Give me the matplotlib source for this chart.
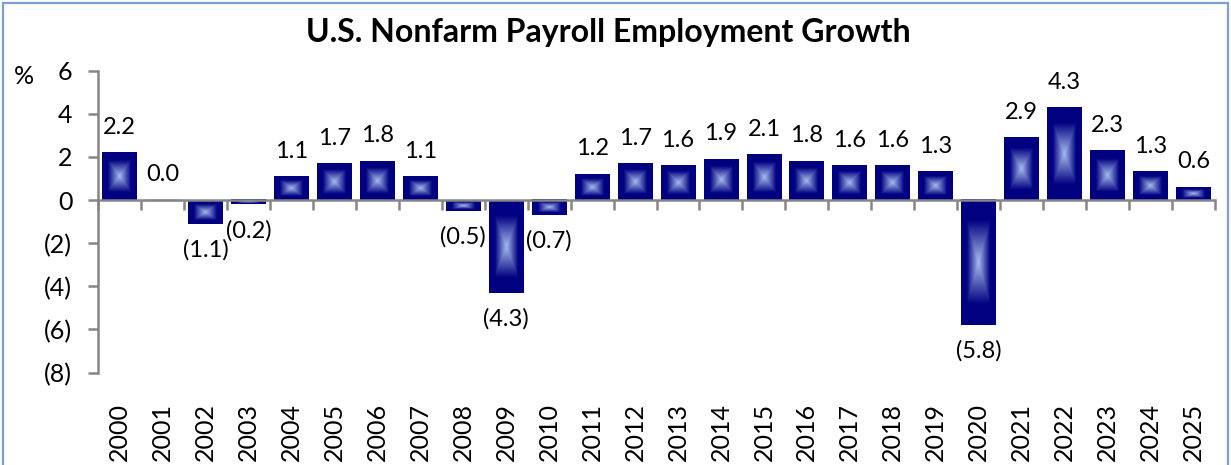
import numpy as np
import matplotlib.pyplot as plt
from matplotlib.patches import Rectangle
from matplotlib.colors import to_rgb

# Data
years = [str(y) for y in range(2000, 2026)]
growth = [2.2, 0.0, -1.1, -0.2, 1.1, 1.7, 1.8, 1.1, -0.5, -4.3, -0.7, 1.2, 1.7,
          1.6, 1.9, 2.1, 1.8, 1.6, 1.6, 1.3, -5.8, 2.9, 4.3, 2.3, 1.3, 0.6]
yticks = [6, 4, 2, 0, -2, -4, -6, -8]


def fmt(v, dec=1):
    # accounting style: negatives in brackets
    s = '%.*f' % (dec, abs(v))
    return '(' + s + ')' if v < 0 else s


plt.rcParams['font.family'] = ['Lato', 'DejaVu Sans']

W, H = 1231, 465
fig = plt.figure(figsize=(W / 100, H / 100), dpi=100)
ax = fig.add_axes([98 / W, 1 - 372.5 / H, (1215 - 98) / W, (372.5 - 70.7) / H])

navy = np.array(to_rgb('#000080'))
light = np.array(to_rgb('#a6bcee'))

# rectangular "from centre" gradient used for every bar
n = 60
u = np.linspace(-1, 1, n)
t = np.maximum(np.abs(u)[None, :], np.abs(u)[:, None])
f = np.clip(t / 0.68, 0, 1)
grad = light[None, None, :] * (1 - f[..., None]) + navy[None, None, :] * f[..., None]

x = np.arange(len(years))
bw = 0.81
for xi, v in zip(x, growth):
    lo, hi = min(0, v), max(0, v)
    if hi - lo < 0.02:
        ax.add_patch(Rectangle((xi - bw / 2, -0.02), bw, 0.04, color=navy, zorder=2))
        continue
    ax.imshow(grad, extent=(xi - bw / 2, xi + bw / 2, lo, hi), aspect='auto',
              interpolation='bilinear', zorder=2)

ax.set_xlim(-0.5, len(years) - 0.5)
ax.set_ylim(-8, 6)

# data labels
for xi, v in zip(x, growth):
    if v >= 0:
        ax.annotate(fmt(v), (xi, v), xytext=(0, 13.5), textcoords='offset points',
                    ha='center', va='baseline', fontsize=17)
    else:
        ax.annotate(fmt(v), (xi, v), xytext=(0, -11), textcoords='offset points',
                    ha='center', va='top', fontsize=17)

# axes styling
axis_col = '#868686'
for s in ['top', 'right']:
    ax.spines[s].set_visible(False)
ax.spines['left'].set_color(axis_col)
ax.spines['left'].set_linewidth(1.8)
ax.spines['bottom'].set_position(('data', 0))
ax.spines['bottom'].set_color(axis_col)
ax.spines['bottom'].set_linewidth(1.8)
ax.spines['bottom'].set_zorder(3)

ax.set_yticks(yticks)
ax.set_yticklabels([fmt(v, 0) for v in yticks], fontsize=18)
ax.tick_params(axis='y', direction='out', length=7.5, width=1.8, color=axis_col, pad=11)

ax.set_xticks(np.arange(len(years) + 1) - 0.5)
ax.set_xticklabels([])
ax.tick_params(axis='x', direction='out', length=7.5, width=1.8, color=axis_col)

# year labels sit below the plot area
for xi, yr in zip(x, years):
    ax.text(xi, -0.1, yr, transform=ax.get_xaxis_transform(), rotation=90,
            ha='center', va='top', fontsize=18)

fig.text(24 / W, 1 - 84 / H, '%', fontsize=18, ha='center', va='baseline')
fig.text(608 / W, 1 - 42 / H, 'U.S. Nonfarm Payroll Employment Growth',
         fontsize=23, fontweight='bold', ha='center', va='baseline')

# chart-area border
fig.patches.append(Rectangle((3 / W, -0.05), (W - 6) / W, 1 - 3 / H + 0.05,
                             transform=fig.transFigure, fill=False,
                             edgecolor='#7aa1d2', linewidth=1.6))

fig.savefig('out.png', dpi=100)
